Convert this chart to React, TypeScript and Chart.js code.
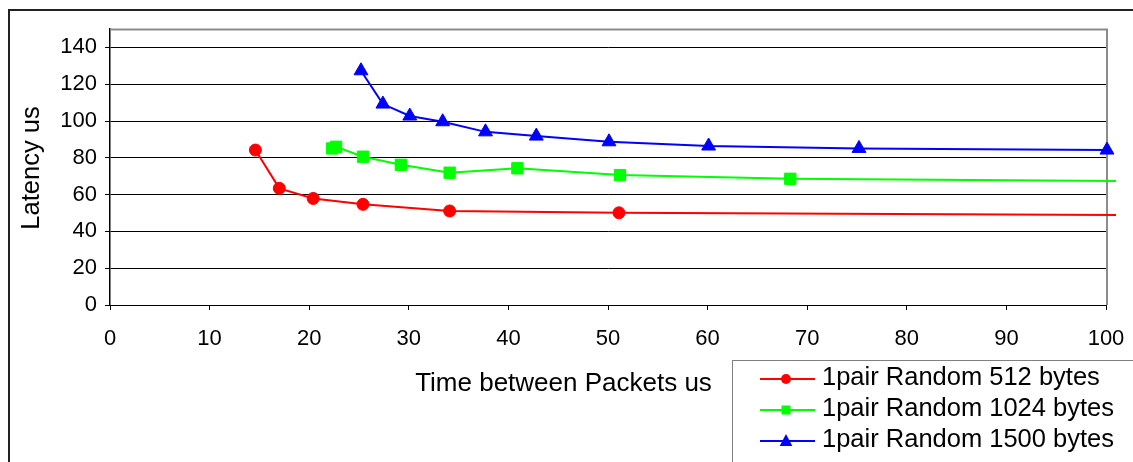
import React, { useEffect, useRef } from 'react';
import { Chart, registerables } from 'chart.js';

Chart.register(...registerables);

// Data
const xTicks = [0, 10, 20, 30, 40, 50, 60, 70, 80, 90, 100];
const yTicks = [0, 20, 40, 60, 80, 100, 120, 140];

const seriesLabels = [
  '1pair Random 512 bytes',
  '1pair Random 1024 bytes',
  '1pair Random 1500 bytes',
];

const x512 = [14.6, 17.0, 20.4, 25.4, 34.1, 51.1, 102.4];
const y512 = [84.2, 63.4, 57.9, 54.7, 51.1, 50.1, 48.9];

const x1024 = [22.3, 22.7, 25.4, 29.2, 34.1, 40.9, 51.2, 68.3, 102.4];
const y1024 = [85.1, 86.0, 80.6, 76.2, 71.9, 74.3, 70.6, 68.6, 67.3];

const x1500 = [25.2, 27.4, 30.1, 33.4, 37.7, 42.8, 50.1, 60.1, 75.2, 100.1, 150];
const y1500 = [127.3, 109.2, 102.7, 99.6, 94.1, 91.8, 88.7, 86.4, 85.1, 84.2, 84.0];

const colors = ['#FF0000', '#00FF00', '#0000FF'];
const pointStyles = ['circle', 'rect', 'triangle'];
const pointRadii = [6, 8, 8];

const FONT = '"Liberation Sans", Arial, sans-serif';

const toPoints = (xs: number[], ys: number[]) => xs.map((x, i) => ({ x, y: ys[i] }));

function drawMarker(ctx: CanvasRenderingContext2D, style: string, x: number, y: number, r: number, color: string) {
  ctx.save();
  ctx.fillStyle = color;
  ctx.beginPath();
  if (style === 'circle') {
    ctx.arc(x, y, r, 0, Math.PI * 2);
  } else if (style === 'rect') {
    ctx.rect(x - r, y - r, 2 * r, 2 * r);
  } else {
    ctx.moveTo(x, y - r);
    ctx.lineTo(x + r * 0.9, y + r * 0.7);
    ctx.lineTo(x - r * 0.9, y + r * 0.7);
    ctx.closePath();
  }
  ctx.fill();
  ctx.restore();
}

const decorPlugin = {
  id: 'decor',
  beforeDraw(chart: any) {
    const ctx = chart.ctx as CanvasRenderingContext2D;
    ctx.save();
    ctx.fillStyle = '#FFFFFF';
    ctx.fillRect(0, 0, chart.width, chart.height);
    ctx.strokeStyle = '#222222';
    ctx.lineWidth = 2;
    ctx.strokeRect(9, 10, 1200, 600);
    ctx.restore();
  },
  beforeDatasetsDraw(chart: any) {
    const ctx = chart.ctx as CanvasRenderingContext2D;
    const a = chart.chartArea;
    ctx.save();
    ctx.strokeStyle = '#8C8C8C';
    ctx.lineWidth = 2;
    ctx.beginPath();
    ctx.moveTo(a.left, a.top + 0.5);
    ctx.lineTo(a.right + 1, a.top + 0.5);
    ctx.lineTo(a.right + 1, a.bottom);
    ctx.stroke();
    ctx.restore();
  },
  afterDraw(chart: any) {
    const ctx = chart.ctx as CanvasRenderingContext2D;
    ctx.save();
    // Axis titles
    ctx.fillStyle = '#000000';
    ctx.font = `26px ${FONT}`;
    ctx.textAlign = 'center';
    ctx.textBaseline = 'alphabetic';
    ctx.fillText('Time between Packets us', 563.5, 391);
    ctx.save();
    ctx.translate(39, 168);
    ctx.rotate(-Math.PI / 2);
    ctx.font = `25.5px ${FONT}`;
    ctx.fillText('Latency us', 0, 0);
    ctx.restore();

    // Legend box
    ctx.fillStyle = '#FFFFFF';
    ctx.fillRect(732.5, 360.5, 500, 200);
    ctx.strokeStyle = '#808080';
    ctx.lineWidth = 1;
    ctx.strokeRect(732.5, 360.5, 500, 200);

    const markR = [5, 4.5, 7];
    chart.data.datasets.forEach((ds: any, i: number) => {
      const cy = 379 + 31 * i;
      ctx.strokeStyle = colors[i];
      ctx.lineWidth = 2;
      ctx.beginPath();
      ctx.moveTo(760, cy);
      ctx.lineTo(815, cy);
      ctx.stroke();
      drawMarker(ctx, pointStyles[i], 786, cy, markR[i], colors[i]);
      ctx.fillStyle = '#000000';
      ctx.font = `25.5px ${FONT}`;
      ctx.textAlign = 'left';
      ctx.textBaseline = 'alphabetic';
      ctx.fillText(ds.label, 822, 385 + 31 * i);
    });
    ctx.restore();
  },
};

export default function App() {
  const canvasRef = useRef<HTMLCanvasElement | null>(null);

  useEffect(() => {
    const canvas = canvasRef.current;
    if (!canvas) return;
    const seriesX = [x512, x1024, x1500];
    const seriesY = [y512, y1024, y1500];
    const chart = new Chart(canvas, {
      type: 'line',
      data: {
        datasets: seriesLabels.map((label, i) => ({
          label,
          data: toPoints(seriesX[i], seriesY[i]),
          borderColor: colors[i],
          backgroundColor: colors[i],
          borderWidth: 2,
          pointStyle: pointStyles[i] as any,
          pointRadius: pointRadii[i],
          pointBorderWidth: 1,
          pointBorderColor: colors[i],
          pointBackgroundColor: colors[i],
          tension: 0,
          fill: false,
          clip: { left: 0, top: 20, right: 10, bottom: 0 } as any,
        })),
      },
      options: {
        animation: false,
        responsive: false,
        maintainAspectRatio: false,
        events: [],
        layout: {
          autoPadding: false,
          padding: { left: 0, top: 29, right: 27, bottom: 0 },
        } as any,
        plugins: {
          legend: { display: false },
          tooltip: { enabled: false },
          title: { display: false },
        },
        scales: {
          x: {
            type: 'linear',
            min: 0,
            max: 100,
            afterBuildTicks: (scale: any) => {
              scale.ticks = xTicks.map((v) => ({ value: v }));
            },
            afterFit: (scale: any) => {
              scale.height = 157;
              scale.paddingLeft = 0;
              scale.paddingRight = 0;
            },
            ticks: {
              color: '#000000',
              font: { family: FONT, size: 22 },
              padding: 16,
              maxRotation: 0,
              autoSkip: false,
            },
            grid: {
              drawOnChartArea: false,
              drawTicks: true,
              tickLength: 5,
              color: '#000000',
              lineWidth: 1,
            },
            border: { display: true, color: '#000000', width: 1 },
            title: { display: false },
          },
          y: {
            type: 'linear',
            min: 0,
            max: 150,
            afterBuildTicks: (scale: any) => {
              scale.ticks = yTicks.map((v) => ({ value: v }));
            },
            afterFit: (scale: any) => {
              scale.width = 110;
              scale.paddingTop = 0;
              scale.paddingBottom = 0;
            },
            ticks: {
              color: '#000000',
              font: { family: FONT, size: 22 },
              padding: 8,
              autoSkip: false,
            },
            grid: {
              drawOnChartArea: true,
              drawTicks: true,
              tickLength: 5,
              color: '#000000',
              lineWidth: 1,
            },
            border: { display: true, color: '#000000', width: 1.5 },
            title: { display: false },
          },
        },
      },
      plugins: [decorPlugin],
    });
    return () => chart.destroy();
  }, []);

  return (
    <div style={{ position: 'absolute', left: 0, top: 0, width: 1133, height: 462 }}>
      <canvas ref={canvasRef} width={1133} height={462} style={{ display: 'block', width: 1133, height: 462 }} />
    </div>
  );
}
